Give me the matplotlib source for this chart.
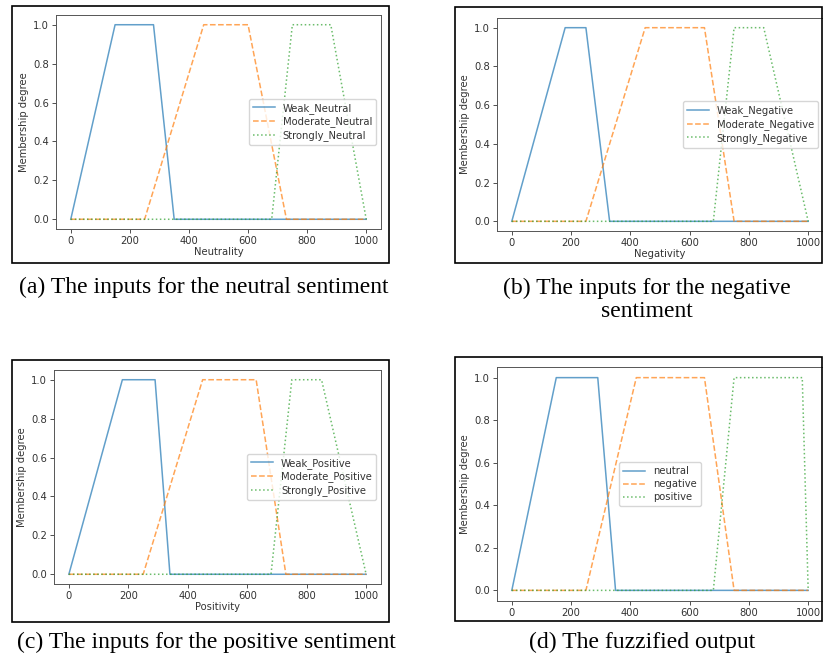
import matplotlib
matplotlib.use('Agg')
import matplotlib.pyplot as plt
from matplotlib.patches import Rectangle

# trapezoid breakpoints [a, b, c, d] for each membership function
neutral_names = ['Weak_Neutral', 'Moderate_Neutral', 'Strongly_Neutral']
neutral_mf = [[0, 150, 280, 350], [250, 450, 600, 730], [680, 750, 880, 1000]]

negative_names = ['Weak_Negative', 'Moderate_Negative', 'Strongly_Negative']
negative_mf = [[0, 180, 250, 330], [250, 450, 650, 750], [680, 750, 850, 1000]]

positive_names = ['Weak_Positive', 'Moderate_Positive', 'Strongly_Positive']
positive_mf = [[0, 180, 290, 340], [250, 450, 630, 730], [680, 750, 850, 1000]]

output_names = ['neutral', 'negative', 'positive']
output_mf = [[0, 150, 290, 350], [250, 420, 650, 750], [680, 750, 980, 1000]]

xlabels = ['Neutrality', 'Negativity', 'Positivity', '']
captions = ['(a) The inputs for the neutral sentiment',
            '(b) The inputs for the negative\nsentiment',
            '(c) The inputs for the positive sentiment',
            '(d) The fuzzified output']

universe_max = 1000

W, H = 823, 660
fig = plt.figure(figsize=(W / 100, H / 100), dpi=100)

def px(x0, y0, x1, y1):
    # pixel box (top-left origin) -> figure fraction rect
    return [x0 / W, 1 - y1 / H, (x1 - x0) / W, (y1 - y0) / H]

boxes = [(12, 6, 389, 263), (455, 7, 822, 263), (12, 360, 389, 622), (455, 357, 822, 621)]
axes_px = [(56, 15, 381, 229), (497, 18, 823, 231), (54, 370, 381, 584), (497, 367, 823, 601)]
legend_locs = ['center right', 'center right', 'center right', 'center']
caption_pos = [(204, 287), (647, 300), (206, 642), (642, 642)]

panels = [(neutral_names, neutral_mf), (negative_names, negative_mf),
          (positive_names, positive_mf), (output_names, output_mf)]
styles = ['-', '--', ':']
colors = ['tab:blue', 'tab:orange', 'tab:green']
fs = 7.2

for i, (names, mfs) in enumerate(panels):
    r = px(*boxes[i])
    fig.patches.append(Rectangle(r[:2], r[2], r[3], transform=fig.transFigure, fill=False,
                                 edgecolor='black', lw=1.2, zorder=10))
    ax = fig.add_axes(px(*axes_px[i]))
    for name, mf, ls, c in zip(names, mfs, styles, colors):
        a, b, cc, d = mf
        xs = [0, a, b, cc, d, universe_max]
        ys = [0, 0, 1, 1, 0, 0]
        ax.plot(xs, ys, ls, color=c, lw=1.1, alpha=0.7, label=name)
    ax.set_ylabel('Membership degree', fontsize=fs, color='#333333', labelpad=3)
    if xlabels[i]:
        ax.set_xlabel(xlabels[i], fontsize=fs, color='#333333', labelpad=1)
    ax.set_xticks([0, 200, 400, 600, 800, 1000])
    ax.set_yticks([0, 0.2, 0.4, 0.6, 0.8, 1.0])
    ax.tick_params(labelsize=fs, colors='#333333', length=3, width=0.6, pad=2)
    for s in ax.spines.values():
        s.set_color('#555555')
        s.set_linewidth(0.7)
    leg = ax.legend(loc=legend_locs[i], fontsize=fs, handlelength=2.2, labelspacing=0.3)
    for t in leg.get_texts():
        t.set_color('#333333')
    fig.text(caption_pos[i][0] / W, 1 - caption_pos[i][1] / H, captions[i],
             ha='center', va='center', family='Liberation Serif', fontsize=17,
             linespacing=1.1)

fig.savefig('out.png', dpi=100)
